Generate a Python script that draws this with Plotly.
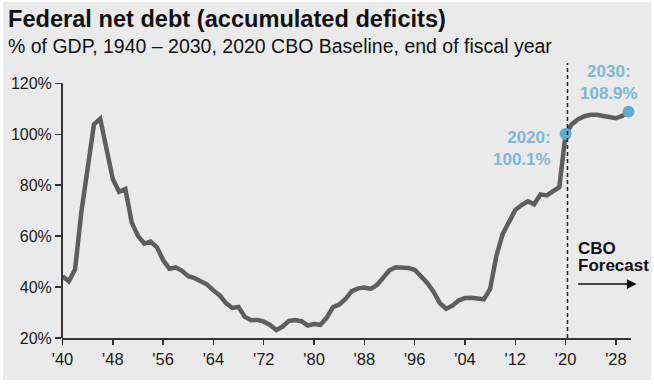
import plotly.graph_objects as go

years = list(range(1940, 2031))
debt_pct = [
    44.2, 42.3, 47.0, 69.5, 86.6, 103.9, 106.1, 93.9, 82.4, 77.4,   # 1940-49
    78.5, 65.4, 60.1, 57.1, 57.9, 55.7, 50.6, 47.2, 47.7, 46.4,     # 1950-59
    44.3, 43.5, 42.3, 41.0, 38.7, 36.7, 33.7, 31.8, 32.2, 28.3,     # 1960-69
    27.0, 27.1, 26.4, 25.1, 23.1, 24.5, 26.7, 27.1, 26.6, 24.9,     # 1970-79
    25.5, 25.2, 27.9, 32.1, 33.1, 35.3, 38.4, 39.5, 39.8, 39.3,     # 1980-89
    40.8, 44.0, 46.6, 47.8, 47.7, 47.5, 46.8, 44.5, 41.6, 38.2,     # 1990-99
    33.7, 31.5, 32.7, 34.7, 35.7, 35.8, 35.4, 35.2, 39.3, 52.3,     # 2000-09
    60.9, 65.9, 70.3, 72.2, 73.7, 72.5, 76.4, 76.0, 77.4, 79.2,     # 2010-19
    100.1, 104.0, 105.9, 107.1, 107.7, 107.7, 107.2, 106.6, 106.3, 107.2,  # 2020-29
    108.9,                                                            # 2030
]
highlight_years = [2020, 2030]
highlight_vals = [debt_pct[years.index(y)] for y in highlight_years]

x_tick_vals = list(range(1940, 2029, 8))
x_tick_text = ["'" + str(y)[2:] for y in x_tick_vals]
y_tick_vals = [20, 40, 60, 80, 100, 120]
y_tick_text = [f"{v}%" for v in y_tick_vals]

forecast_start = 2020.3

LINE = "#5E5E5E"
BLUE = "#62ACD2"
BLUE_TXT = "#7DB8D6"
BG = "#EAEAEA"
AXIS = "#333333"
FONT = "Liberation Sans, Arial, sans-serif"

fig = go.Figure()
fig.add_trace(go.Scatter(
    x=years, y=debt_pct, mode="lines",
    line=dict(color=LINE, width=4.5), hoverinfo="skip", cliponaxis=False,
))
fig.add_trace(go.Scatter(
    x=highlight_years, y=highlight_vals, mode="markers",
    marker=dict(color=BLUE, size=12), hoverinfo="skip", cliponaxis=False,
))

shapes = [
    dict(type="rect", xref="paper", yref="paper",
         x0=(3 - 62) / 569, x1=(651 - 62) / 569,
         y0=(338 - 380) / 275, y1=(338 - 2) / 275,
         fillcolor=BG, line=dict(width=0), layer="below"),
    dict(type="line", xref="paper", yref="y", x0=0, x1=0, y0=20, y1=120,
         line=dict(color=AXIS, width=2)),
    dict(type="line", xref="x", yref="paper", x0=forecast_start, x1=forecast_start,
         y0=0, y1=1, line=dict(color="#222222", width=1.5, dash="4px,3px")),
]

annotations = [
    dict(xref="paper", yref="paper", x=(6 - 62) / 569, y=(338 - 19) / 275,
         xanchor="left", yanchor="middle", showarrow=False,
         text="<b>Federal net debt (accumulated deficits)</b>",
         font=dict(size=23.6, color="#111111", family=FONT)),
    dict(xref="paper", yref="paper", x=(6 - 62) / 569, y=(338 - 46) / 275,
         xanchor="left", yanchor="middle", showarrow=False,
         text="% of GDP, 1940 – 2030, 2020 CBO Baseline, end of fiscal year",
         font=dict(size=19.5, color="#111111", family=FONT)),
    dict(xref="x", yref="y", x=2018.0, y=94.6, xanchor="right", yanchor="middle",
         align="right", showarrow=False, text="<b>2020:<br>100.1%</b>",
         font=dict(size=17, color=BLUE_TXT, family=FONT)),
    dict(xref="x", yref="y", x=2026.9, y=120.3, xanchor="center", yanchor="middle",
         align="center", showarrow=False, text="<b>2030:<br>108.9%</b>",
         font=dict(size=17, color=BLUE_TXT, family=FONT)),
    dict(xref="x", yref="y", x=2021.6, y=55.3, xanchor="left", yanchor="middle",
         showarrow=False, text="<b>CBO</b>",
         font=dict(size=17, color="#111111", family=FONT)),
    dict(xref="x", yref="y", x=2021.6, y=48.6, xanchor="left", yanchor="middle",
         showarrow=False, text="<b>Forecast</b>",
         font=dict(size=17, color="#111111", family=FONT)),
    dict(xref="x", yref="y", axref="x", ayref="y",
         x=2031.3, y=41.2, ax=2021.76, ay=41.2, text="",
         showarrow=True, arrowhead=2, arrowsize=1.3, arrowwidth=1.5, arrowcolor="#111111"),
]

fig.update_layout(
    width=654, height=386,
    margin=dict(l=62, r=23, t=63, b=48),
    paper_bgcolor="white", plot_bgcolor=BG,
    showlegend=False,
    font=dict(family=FONT, size=16, color="#1A1A1A"),
    shapes=shapes, annotations=annotations,
    xaxis=dict(range=[1939.92, 2030.4], tickmode="array", tickvals=x_tick_vals,
               ticktext=x_tick_text, showgrid=False, zeroline=False,
               showline=True, linecolor=AXIS, linewidth=2,
               ticks="outside", ticklen=5, tickwidth=1.5, tickcolor=AXIS,
               tickfont=dict(size=16.5, family=FONT, color="#1A1A1A")),
    yaxis=dict(range=[20, 128], tickmode="array", tickvals=y_tick_vals,
               ticktext=y_tick_text, showgrid=False, zeroline=False, showline=False,
               ticks="outside", ticklen=6, tickwidth=1.5, tickcolor=AXIS,
               tickfont=dict(size=16, family=FONT, color="#1A1A1A")),
)

fig.write_html(
    "out.html",
    config={"displayModeBar": False, "staticPlot": True},
    post_script="document.body.style.margin='0';document.body.style.padding='0';",
)
